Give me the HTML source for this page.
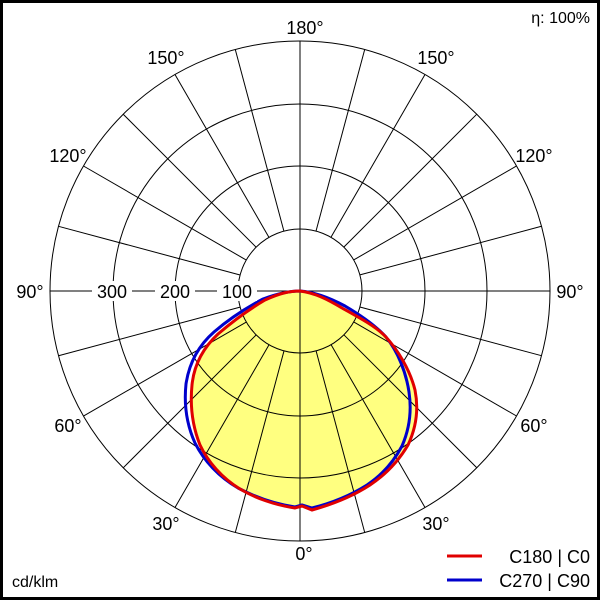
<!DOCTYPE html>
<html><head><style>
body{margin:0;background:#fff;}
svg{display:block;font-family:"Liberation Sans",Arial,sans-serif;}
</style></head><body>
<svg width="600" height="600" viewBox="0 0 600 600">
<rect x="1.5" y="1.5" width="597" height="597" fill="#fff" stroke="#000" stroke-width="3"/>
<path d="M300,291 C315,293 327,299 342,308 C360,318 375,326 385,336 C398,350 410,370 415,390 C419,410 416,428 408,445 C398,462 385,475 370,485 C350,498 330,505 312,510 L302,506 L295,508 C275,505 255,498 240,489 C222,478 208,462 200,445 C192,425 190,405 192,385 C194,365 203,348 218,334 C232,322 248,310 265,300 C280,293 290,291 300,291 Z" fill="#ffff80"/>
<g fill="none" stroke="#000" stroke-width="1">
<circle cx="300" cy="291" r="62"/>
<circle cx="300" cy="291" r="125"/>
<circle cx="300" cy="291" r="187"/>
<circle cx="300" cy="291" r="250"/>
<line x1="300" y1="41" x2="300" y2="541"/>
<line x1="50" y1="291" x2="550" y2="291"/>
<g id="rl">
<line x1="316" y1="231.1" x2="364.7" y2="49.5"/>
</g>
<use href="#rl" transform="rotate(15 300 291)"/>
<use href="#rl" transform="rotate(30 300 291)"/>
<use href="#rl" transform="rotate(45 300 291)"/>
<use href="#rl" transform="rotate(60 300 291)"/>
<use href="#rl" transform="rotate(90 300 291)"/>
<use href="#rl" transform="rotate(105 300 291)"/>
<use href="#rl" transform="rotate(120 300 291)"/>
<use href="#rl" transform="rotate(135 300 291)"/>
<use href="#rl" transform="rotate(150 300 291)"/>
<use href="#rl" transform="rotate(180 300 291)"/>
<use href="#rl" transform="rotate(195 300 291)"/>
<use href="#rl" transform="rotate(210 300 291)"/>
<use href="#rl" transform="rotate(225 300 291)"/>
<use href="#rl" transform="rotate(240 300 291)"/>
<use href="#rl" transform="rotate(270 300 291)"/>
<use href="#rl" transform="rotate(285 300 291)"/>
<use href="#rl" transform="rotate(300 300 291)"/>
<use href="#rl" transform="rotate(315 300 291)"/>
<use href="#rl" transform="rotate(330 300 291)"/>
</g>
<path d="M300,291 C315,292 330,298 345,306 C362,316 376,326 386,337 C398,352 406,372 409,392 C412,412 409,430 402,446 C393,463 382,475 367,485 C348,497 328,504 312,508 L302,505 L295,507 C275,504 255,497 238,488 C219,477 204,461 195,443 C186,423 184,403 186,384 C189,364 198,346 214,332 C229,319 246,308 263,299 C279,293 290,291 300,291 Z" fill="none" stroke="#0000cc" stroke-width="3"/>
<path d="M300,291 C315,293 327,299 342,308 C360,318 375,326 385,336 C398,350 410,370 415,390 C419,410 416,428 408,445 C398,462 385,475 370,485 C350,498 330,505 312,510 L302,506 L295,508 C275,505 255,498 240,489 C222,478 208,462 200,445 C192,425 190,405 192,385 C194,365 203,348 218,334 C232,322 248,310 265,300 C280,293 290,291 300,291 Z" fill="none" stroke="#e00000" stroke-width="3"/>
<g font-size="18" fill="#000">
<g text-anchor="middle">
<rect x="217" y="281" width="40" height="20" fill="#fff"/>
<text x="237" y="298">100</text>
<rect x="155" y="281" width="40" height="20" fill="#fff"/>
<text x="175" y="298">200</text>
<rect x="92" y="281" width="40" height="20" fill="#fff"/>
<text x="112" y="298">300</text>
<rect x="11" y="281" width="38" height="20" fill="#fff"/>
<text x="30" y="298">90°</text>
<rect x="551" y="281" width="38" height="20" fill="#fff"/>
<text x="570" y="298">90°</text>
<text x="305" y="34">180°</text>
<text x="166" y="64">150°</text>
<text x="436" y="64">150°</text>
<text x="68" y="162">120°</text>
<text x="534" y="162">120°</text>
<text x="68" y="432">60°</text>
<text x="534" y="432">60°</text>
<text x="166" y="530">30°</text>
<text x="436" y="530">30°</text>
<text x="304" y="560">0°</text>
</g>
<text x="590" y="23" text-anchor="end" font-size="16">η: 100%</text>
<text x="12" y="587" font-size="16">cd/klm</text>
<text x="590" y="563" text-anchor="end">C180 | C0</text>
<text x="590" y="587" text-anchor="end">C270 | C90</text>
</g>
<line x1="447" y1="556" x2="482" y2="556" stroke="#e00000" stroke-width="3"/>
<line x1="447" y1="580" x2="482" y2="580" stroke="#0000cc" stroke-width="3"/>
</svg>
</body></html>
